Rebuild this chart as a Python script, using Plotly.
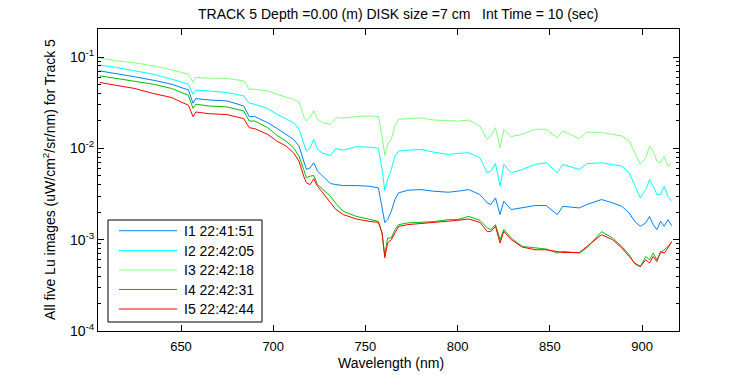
import plotly.graph_objects as go

# ---- data (log10 of radiance) ----
wavelength_nm = [606, 615, 625, 635, 645, 650, 654, 656.5, 658, 665,
                 675, 684, 687, 690, 697, 702, 707, 711, 714, 716.5,
                 718, 720, 722, 724, 727, 731, 734, 738, 745, 752,
                 757, 759, 760.5, 762, 764, 766, 768, 773, 780, 787,
                 795, 800, 806, 812, 816, 818, 820.5, 823, 825, 829,
                 835, 842, 848, 854, 857, 866, 870, 878, 884, 889,
                 893, 896, 899, 902, 904, 906, 908, 910, 912, 914,
                 916]

I1_log = [-1.151, -1.179, -1.216, -1.253, -1.297, -1.333, -1.359, -1.505, -1.454, -1.469,
          -1.480, -1.535, -1.652, -1.652, -1.718, -1.780, -1.846, -1.901, -1.975, -2.140,
          -2.231, -2.212, -2.157, -2.249, -2.304, -2.385, -2.396, -2.407, -2.407, -2.414,
          -2.432, -2.670, -2.813, -2.780, -2.689, -2.560, -2.487, -2.458, -2.451, -2.469,
          -2.480, -2.469, -2.451, -2.505, -2.597, -2.615, -2.542, -2.725, -2.579, -2.670,
          -2.652, -2.626, -2.626, -2.725, -2.634, -2.652, -2.615, -2.560, -2.597, -2.634,
          -2.707, -2.799, -2.854, -2.816, -2.744, -2.835, -2.890, -2.799, -2.854, -2.780,
          -2.846]

I2_log = [-1.088, -1.113, -1.151, -1.187, -1.242, -1.271, -1.297, -1.407, -1.363, -1.370,
          -1.388, -1.425, -1.505, -1.516, -1.564, -1.626, -1.674, -1.718, -1.791, -1.937,
          -2.030, -1.992, -1.901, -2.011, -2.055, -2.077, -2.003, -2.019, -1.981, -1.986,
          -1.997, -2.231, -2.462, -2.341, -2.231, -2.085, -2.030, -2.019, -2.011, -2.041,
          -2.066, -2.055, -2.047, -2.102, -2.267, -2.249, -2.165, -2.414, -2.176, -2.267,
          -2.231, -2.176, -2.157, -2.267, -2.176, -2.231, -2.168, -2.157, -2.176, -2.195,
          -2.267, -2.414, -2.542, -2.451, -2.341, -2.414, -2.505, -2.505, -2.414, -2.524,
          -2.579]

I3_log = [-1.011, -1.041, -1.063, -1.096, -1.140, -1.162, -1.187, -1.275, -1.223, -1.231,
          -1.234, -1.260, -1.352, -1.352, -1.370, -1.407, -1.436, -1.462, -1.491, -1.648,
          -1.700, -1.659, -1.590, -1.681, -1.718, -1.736, -1.663, -1.667, -1.652, -1.645,
          -1.652, -1.865, -2.077, -1.956, -1.901, -1.755, -1.681, -1.674, -1.667, -1.689,
          -1.700, -1.700, -1.689, -1.755, -1.901, -1.865, -1.773, -1.992, -1.791, -1.871,
          -1.846, -1.791, -1.791, -1.882, -1.810, -1.893, -1.821, -1.827, -1.846, -1.865,
          -1.920, -2.047, -2.176, -2.102, -1.975, -2.030, -2.140, -2.157, -2.085, -2.195,
          -2.157]

I4_log = [-1.205, -1.231, -1.260, -1.297, -1.344, -1.388, -1.418, -1.560, -1.516, -1.535,
          -1.546, -1.590, -1.700, -1.700, -1.773, -1.857, -1.920, -1.992, -2.085, -2.231,
          -2.322, -2.304, -2.297, -2.396, -2.451, -2.524, -2.604, -2.689, -2.744, -2.780,
          -2.799, -2.926, -3.176, -2.981, -2.981, -2.890, -2.835, -2.816, -2.810, -2.802,
          -2.780, -2.780, -2.744, -2.788, -2.871, -2.890, -2.835, -3.000, -2.890, -2.981,
          -3.074, -3.091, -3.102, -3.146, -3.129, -3.146, -3.091, -2.912, -2.981, -3.074,
          -3.165, -3.264, -3.297, -3.184, -3.220, -3.146, -3.220, -3.146, -3.110, -3.074,
          -3.036]

I5_log = [-1.278, -1.308, -1.344, -1.399, -1.443, -1.491, -1.527, -1.652, -1.601, -1.619,
          -1.630, -1.674, -1.773, -1.784, -1.846, -1.920, -1.975, -2.047, -2.140, -2.304,
          -2.377, -2.396, -2.333, -2.414, -2.487, -2.597, -2.670, -2.725, -2.773, -2.799,
          -2.810, -2.926, -3.198, -3.036, -3.000, -2.926, -2.854, -2.835, -2.824, -2.810,
          -2.799, -2.788, -2.773, -2.810, -2.909, -2.909, -2.854, -3.036, -2.909, -3.000,
          -3.080, -3.110, -3.110, -3.129, -3.140, -3.140, -3.074, -2.945, -3.000, -3.091,
          -3.184, -3.256, -3.293, -3.220, -3.256, -3.184, -3.238, -3.129, -3.146, -3.091,
          -3.018]

series_names = ["I1 22:41:51", "I2 22:42:05", "I3 22:42:18", "I4 22:42:31", "I5 22:42:44"]
series_logs = [I1_log, I2_log, I3_log, I4_log, I5_log]
series_colors = ["#0080ff", "#00ffff", "#80ff80", "#00c000", "#ff0000"]

ytick_vals = [1e-4, 1e-3, 1e-2, 1e-1]
ytick_text = ["10<sup>-4</sup>", "10<sup>-3</sup>", "10<sup>-2</sup>", "10<sup>-1</sup>"]
xtick_vals = [650, 700, 750, 800, 850, 900]

FONT = "Liberation Sans, Arial, sans-serif"

fig = go.Figure()
for name, logs, col in zip(series_names, series_logs, series_colors):
    fig.add_trace(go.Scatter(
        x=wavelength_nm, y=[10 ** v for v in logs], mode="lines", name=name,
        line=dict(color=col, width=1), showlegend=False, hoverinfo="skip"))

minor_vals = [k * 10 ** e for e in (-4, -3, -2, -1) for k in range(2, 10)]

fig.update_layout(
    width=750, height=375,
    margin=dict(l=98, r=71, t=29, b=44),
    paper_bgcolor="white", plot_bgcolor="white",
    font=dict(family=FONT, size=13, color="black"),
    xaxis=dict(range=[605, 920], tickmode="array", tickvals=xtick_vals,
               ticks="inside", ticklen=6, tickcolor="black", showgrid=False,
               zeroline=False, showline=True, linecolor="black", linewidth=1,
               mirror="ticks", tickfont=dict(size=13, family=FONT),
               ticklabelstandoff=3),
    yaxis=dict(type="log", range=[-4, -0.692], tickmode="array", tickvals=ytick_vals,
               ticktext=ytick_text, ticks="inside", ticklen=6, tickcolor="black",
               showgrid=False, zeroline=False, showline=True, linecolor="black",
               linewidth=1, mirror="ticks", tickfont=dict(size=14, family=FONT),
               minor=dict(tickmode="array", tickvals=minor_vals, ticks="inside",
                          ticklen=3, tickcolor="black", showgrid=False)),
)

# title and axis labels
fig.add_annotation(text="TRACK 5 Depth =0.00 (m) DISK size =7 cm\u00a0\u00a0\u00a0Int Time = 10 (sec)",
                   xref="paper", yref="paper", x=0.517, y=1 + 15 / 302,
                   xanchor="center", yanchor="middle", showarrow=False,
                   font=dict(size=14, family=FONT))
fig.add_annotation(text="Wavelength (nm)", xref="paper", yref="paper",
                   x=0.505, y=-32 / 302, xanchor="center", yanchor="middle",
                   showarrow=False, font=dict(size=14, family=FONT))
fig.add_annotation(text="All five Lu images (uW/cm<sup>2</sup>/sr/nm) for Track 5",
                   xref="paper", yref="paper", x=-49 / 581, y=0.5, textangle=-90,
                   xanchor="center", yanchor="middle", showarrow=False,
                   font=dict(size=14, family=FONT))

# legend box drawn as in the reference
def px_x(p):
    return (p - 98) / 581

def px_y(p):
    return (331 - p) / 302

fig.add_shape(type="rect", xref="paper", yref="paper",
              x0=px_x(108), x1=px_x(262), y0=px_y(322), y1=px_y(220),
              line=dict(color="black", width=1), fillcolor="white", layer="above")
legend_rows = [230.7, 250.5, 270, 289.5, 309]
for name, col, ry in zip(series_names, series_colors, legend_rows):
    fig.add_shape(type="line", xref="paper", yref="paper",
                  x0=px_x(119), x1=px_x(177), y0=px_y(ry), y1=px_y(ry),
                  line=dict(color=col, width=1), layer="above")
    fig.add_annotation(text=name, xref="paper", yref="paper",
                       x=px_x(182), y=px_y(ry), xanchor="left", yanchor="middle",
                       showarrow=False, font=dict(size=14, family=FONT))

fig.write_html("out.html", config={"displayModeBar": False},
               post_script="document.body.style.margin='0px';document.body.style.padding='0px';")
